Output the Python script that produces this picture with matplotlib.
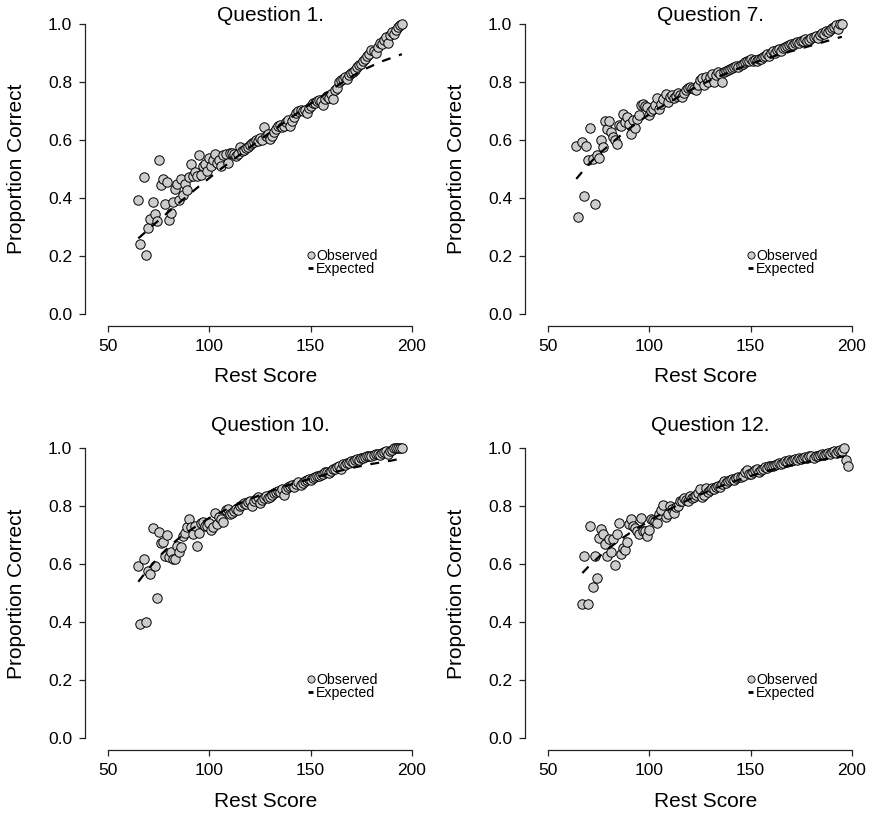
"""Observed vs expected proportion correct by rest score, four questions"""

import numpy as np
import matplotlib
matplotlib.use('Agg')
import matplotlib.pyplot as plt
from matplotlib.lines import Line2D
from matplotlib.transforms import blended_transform_factory

plt.rcParams['font.family'] = ['Liberation Sans', 'DejaVu Sans']

nan = np.nan

# --- observed proportions, one value per rest score ---
rest_q1 = list(range(65, 196))
obs_q1 = [
    0.393, 0.241, nan, 0.471, 0.203, 0.295, 0.326, 0.386, 0.344, 0.320,
    0.530, 0.444, 0.464, 0.377, 0.455, 0.324, 0.346, 0.385, 0.430, 0.447,
    0.394, 0.466, 0.410, 0.449, 0.428, 0.471, 0.517, 0.476, 0.490, 0.474,
    0.546, 0.478, 0.511, 0.517, 0.493, 0.537, 0.511, 0.531, 0.552, 0.520,
    0.529, 0.508, 0.548, 0.552, 0.520, 0.554, 0.556, 0.552, 0.543, 0.552,
    0.574, 0.560, 0.565, 0.570, 0.575, 0.582, 0.588, 0.592, 0.598, 0.596,
    0.605, 0.598, 0.644, 0.612, 0.620, 0.602, 0.612, 0.628, 0.636, 0.648,
    0.652, 0.645, 0.646, 0.660, 0.668, 0.648, 0.665, 0.680, 0.692, 0.700,
    0.702, 0.698, 0.704, 0.692, 0.710, 0.718, 0.725, 0.728, 0.735, 0.738,
    0.735, 0.720, 0.742, 0.750, 0.745, 0.758, 0.742, 0.770, 0.780, 0.800,
    0.805, 0.810, 0.818, 0.808, 0.822, 0.830, 0.835, 0.842, 0.850, 0.858,
    0.862, 0.870, 0.880, 0.890, 0.895, 0.908, 0.905, 0.900, 0.920, 0.935,
    0.930, 0.945, 0.955, 0.935, 0.960, 0.970, 0.965, 0.980, 0.990, 0.995,
    1.000,
]

rest_q7 = list(range(64, 196))
obs_q7 = [
    0.580, 0.333, nan, 0.591, 0.405, 0.577, 0.529, 0.640, 0.533, 0.379,
    0.548, 0.537, 0.600, 0.575, 0.663, 0.638, 0.663, 0.626, 0.609, 0.600,
    0.585, 0.652, 0.646, 0.689, 0.661, 0.677, 0.655, 0.620, 0.667, 0.640,
    0.672, 0.686, 0.721, 0.724, 0.717, 0.712, 0.686, 0.698, 0.706, 0.720,
    0.744, 0.706, 0.724, 0.740, 0.759, 0.729, 0.749, 0.755, 0.745, 0.752,
    0.760, 0.755, 0.748, 0.760, 0.770, 0.778, 0.782, 0.778, 0.775, 0.772,
    0.790, 0.806, 0.812, 0.790, 0.815, 0.800, 0.818, 0.828, 0.800, 0.822,
    0.832, 0.825, 0.800, 0.835, 0.838, 0.842, 0.845, 0.848, 0.852, 0.855,
    0.850, 0.858, 0.862, 0.868, 0.870, 0.872, 0.878, 0.870, 0.875, 0.872,
    0.878, 0.880, 0.885, 0.890, 0.895, 0.888, 0.898, 0.905, 0.900, 0.910,
    0.912, 0.905, 0.915, 0.920, 0.922, 0.928, 0.930, 0.925, 0.935, 0.938,
    0.932, 0.940, 0.942, 0.946, 0.940, 0.945, 0.950, 0.955, 0.958, 0.952,
    0.962, 0.968, 0.965, 0.975, 0.970, 0.980, 0.985, 0.990, 0.995, 0.982,
    1.000, 1.000,
]

rest_q10 = list(range(65, 196))
obs_q10 = [
    0.594, 0.393, nan, 0.618, 0.400, 0.578, 0.567, 0.724, 0.595, 0.485,
    0.710, 0.672, 0.678, 0.630, 0.700, 0.627, 0.641, 0.618, 0.618, 0.664,
    0.644, 0.661, 0.698, 0.707, 0.730, 0.756, 0.728, 0.705, 0.732, 0.664,
    0.707, 0.741, 0.745, 0.732, 0.733, 0.741, 0.720, 0.730, 0.776, 0.738,
    0.764, 0.756, 0.747, 0.787, 0.790, 0.772, 0.778, 0.785, 0.790, 0.788,
    0.800, 0.805, 0.810, 0.808, 0.815, 0.820, 0.800, 0.818, 0.825, 0.832,
    0.812, 0.822, 0.830, 0.835, 0.828, 0.832, 0.840, 0.845, 0.850, 0.852,
    0.848, 0.858, 0.838, 0.860, 0.865, 0.870, 0.872, 0.868, 0.878, 0.885,
    0.875, 0.880, 0.888, 0.892, 0.895, 0.890, 0.898, 0.900, 0.903, 0.905,
    0.908, 0.912, 0.918, 0.920, 0.915, 0.922, 0.930, 0.928, 0.935, 0.940,
    0.930, 0.945, 0.942, 0.948, 0.950, 0.955, 0.952, 0.958, 0.962, 0.960,
    0.965, 0.968, 0.970, 0.972, 0.975, 0.972, 0.978, 0.980, 0.982, 0.978,
    0.985, 0.988, 0.990, 0.980, 0.992, 0.995, 1.000, 1.000, 1.000, 1.000,
    1.000,
]

rest_q12 = list(range(67, 199))
obs_q12 = [
    0.462, 0.628, nan, 0.462, 0.732, 0.523, 0.630, 0.553, 0.690, 0.723,
    0.706, 0.671, 0.630, 0.689, 0.644, 0.689, 0.598, 0.704, 0.741, 0.634,
    0.657, 0.651, 0.677, 0.739, 0.756, 0.732, 0.724, 0.716, 0.706, 0.761,
    0.716, 0.716, 0.698, 0.718, 0.757, 0.754, 0.748, 0.744, 0.774, 0.788,
    0.805, 0.764, 0.775, 0.800, 0.790, 0.777, 0.796, 0.802, 0.818, 0.820,
    0.830, 0.822, 0.818, 0.835, 0.830, 0.832, 0.838, 0.845, 0.860, 0.832,
    0.840, 0.862, 0.850, 0.855, 0.862, 0.858, 0.865, 0.870, 0.868, 0.878,
    0.886, 0.880, 0.888, 0.892, 0.895, 0.890, 0.898, 0.902, 0.900, 0.906,
    0.920, 0.925, 0.910, 0.912, 0.918, 0.925, 0.928, 0.918, 0.925, 0.930,
    0.935, 0.932, 0.938, 0.940, 0.938, 0.942, 0.945, 0.948, 0.945, 0.950,
    0.955, 0.952, 0.958, 0.955, 0.960, 0.962, 0.958, 0.965, 0.962, 0.968,
    0.970, 0.965, 0.972, 0.975, 0.968, 0.972, 0.975, 0.978, 0.980, 0.976,
    0.982, 0.985, 0.980, 0.988, 0.992, 0.985, 0.990, 0.995, 0.990, 1.000,
    0.960, 0.940,
]

# --- expected curves ---
exp_x_q1 = [65, 75, 85, 95, 105, 115, 125, 135, 145, 155, 165, 175, 185, 195]
exp_q1 = [0.260, 0.322, 0.382, 0.440, 0.496, 0.548, 0.600, 0.650, 0.700,
          0.748, 0.795, 0.838, 0.870, 0.895]

exp_x_q7 = [64, 70, 75, 80, 85, 90, 95, 100, 105, 110, 120, 130, 140, 150,
            160, 170, 180, 190, 195]
exp_q7 = [0.465, 0.515, 0.550, 0.580, 0.610, 0.638, 0.663, 0.688, 0.710,
          0.730, 0.770, 0.805, 0.835, 0.862, 0.885, 0.905, 0.925, 0.945, 0.955]

exp_x_q10 = [65, 70, 75, 80, 85, 90, 95, 100, 110, 120, 130, 140, 150, 160,
             170, 180, 190, 195]
exp_q10 = [0.540, 0.585, 0.625, 0.660, 0.690, 0.715, 0.738, 0.760, 0.795,
           0.825, 0.852, 0.875, 0.895, 0.915, 0.932, 0.946, 0.958, 0.965]

exp_x_q12 = [67, 70, 75, 80, 85, 90, 95, 100, 110, 120, 130, 140, 150, 160,
             170, 180, 190, 196]
exp_q12 = [0.570, 0.592, 0.625, 0.655, 0.682, 0.706, 0.728, 0.750, 0.790,
           0.825, 0.855, 0.882, 0.905, 0.925, 0.942, 0.955, 0.966, 0.972]

panels = [
    ("Question 1.", rest_q1, obs_q1, exp_x_q1, exp_q1),
    ("Question 7.", rest_q7, obs_q7, exp_x_q7, exp_q7),
    ("Question 10.", rest_q10, obs_q10, exp_x_q10, exp_q10),
    ("Question 12.", rest_q12, obs_q12, exp_x_q12, exp_q12),
]

W, H = 877, 815
fig = plt.figure(figsize=(W / 100, H / 100), dpi=100)

# axes boxes in pixels: left, bottom-of-axes (from top), width, height
lefts = [85, 525]
bottoms = [325.7, 750.3]
aw, ah = 339, 313.6
title_y = [1.03, 1.08]

for i, (title, xs, obs, ex, ey) in enumerate(panels):
    row, col = divmod(i, 2)
    ax = fig.add_axes([lefts[col] / W, (H - bottoms[row]) / H, aw / W, ah / H])
    ax.set_xlim(38.7, 205.9)
    ax.set_ylim(-0.041, 1.04)

    ax.scatter(xs, obs, s=46, facecolor='#cccccc', edgecolor='black',
               linewidth=0.7, zorder=2, clip_on=False)
    ax.plot(ex, ey, color='black', lw=1.6, ls=(0, (4, 4)), zorder=3)

    for side in ('top', 'right'):
        ax.spines[side].set_visible(False)
    ax.spines['left'].set_bounds(0, 1)
    ax.spines['bottom'].set_bounds(50, 200)
    for side in ('left', 'bottom'):
        ax.spines[side].set_linewidth(0.9)
        ax.spines[side].set_color('#222222')
    ax.set_xticks([50, 100, 150, 200])
    ax.set_yticks([0.0, 0.2, 0.4, 0.6, 0.8, 1.0])
    ax.set_yticklabels(['0.0', '0.2', '0.4', '0.6', '0.8', '1.0'])
    ax.tick_params(direction='out', length=4.3, width=0.9, pad=5,
                   labelsize=12.5, color='#222222')

    ax.text(130, title_y[row], title, ha='center', va='center',
            fontsize=15, clip_on=False)
    ax.text(-0.2006, 0.5, 'Proportion Correct', rotation=90, ha='center',
            va='center', fontsize=15, transform=ax.transAxes)
    ax.text(128, -0.163, 'Rest Score', ha='center', va='center', fontsize=15,
            transform=blended_transform_factory(ax.transData, ax.transAxes))

    handles = [
        Line2D([], [], marker='o', ls='none', mfc='#cccccc', mec='black',
               ms=5.2, mew=0.6),
        Line2D([], [], color='black', lw=2, solid_capstyle='butt'),
    ]
    ax.legend(handles, ['Observed', 'Expected'], loc='center left',
              bbox_to_anchor=(148.6, 0.178), bbox_transform=ax.transData,
              frameon=False, fontsize=10.2, handlelength=0.4,
              handletextpad=0.2, labelspacing=-0.07, borderpad=0,
              borderaxespad=0)

fig.savefig('out.png', dpi=100)
